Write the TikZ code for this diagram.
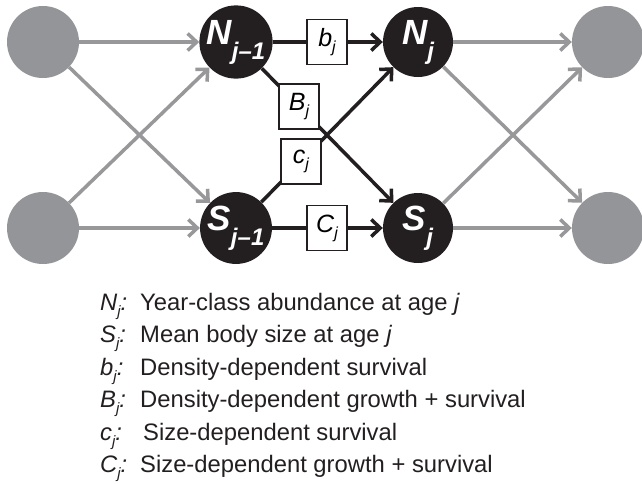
\documentclass[tikz,border=0pt]{standalone}
\usepackage{fontspec}
\setmainfont{Liberation Sans}
\usetikzlibrary{arrows.meta,calc}
\definecolor{dk}{HTML}{231F20}
\definecolor{gr}{HTML}{939598}
\definecolor{ga}{HTML}{98989B}
\newcommand\nodesub[2]{{\fontsize{35}{35}\selectfont\bfseries\itshape #1\raisebox{-15pt}{\fontsize{24}{24}\selectfont #2}}}
\newcommand\boxsub[2]{{\fontsize{25}{25}\selectfont\itshape #1\raisebox{-6pt}{\fontsize{16}{16}\selectfont #2}}}
\newcommand\lsub[1]{\raisebox{-6pt}{\fontsize{15}{15}\selectfont\itshape #1}}
\tikzset{
  graynode/.style={circle, fill=gr, minimum size=72pt, inner sep=0pt},
  blacknode/.style={circle, fill=dk, minimum size=70pt, inner sep=0pt, text=white},
  coefbox/.style={draw=dk, line width=1.6pt, fill=white, minimum width=40pt, minimum height=45pt, inner sep=0pt},
  grayarrow/.style={draw=ga, line width=3.5pt, -{Straight Barb[length=9pt,width=17pt]}},
  blackline/.style={draw=dk, line width=3.5pt},
  blackarrow/.style={blackline, -{Straight Barb[length=9pt,width=17pt]}},
  legkey/.style={anchor=base west, inner sep=0pt, font=\fontsize{23.8}{23.8}\selectfont\itshape, text=dk},
  legtext/.style={anchor=base west, inner sep=0pt, font=\fontsize{23.8}{23.8}\selectfont, text=dk}
}
\begin{document}
\begin{tikzpicture}[x=1pt,y=-1pt]
\useasboundingbox (0,0) rectangle (642,483);
% nodes
\node[graynode] (LT) at (43,42) {};
\node[graynode] (LB) at (43,228) {};
\node[graynode] (RT) at (608,42) {};
\node[graynode] (RB) at (608,228) {};
\node[blacknode] (N1) at (236,42) {\nodesub{N}{j–1}};
\node[blacknode] (N2) at (418,42) {\nodesub{N}{j}};
\node[blacknode] (S1) at (236,228) {\nodesub{S}{j–1}};
\node[blacknode] (S2) at (418,228) {\nodesub{S}{j}};
% gray connectors
\draw[grayarrow] (LT) -- (N1);
\draw[grayarrow] (LT) -- (S1);
\draw[grayarrow] (LB) -- (N1);
\draw[grayarrow] (LB) -- (S1);
\draw[grayarrow] (N2) -- (RT);
\draw[grayarrow] (N2) -- (RB);
\draw[grayarrow] (S2) -- (RT);
\draw[grayarrow] (S2) -- (RB);
% black connectors
\coordinate (bmid) at ($(N1.center)!0.5!(N2.center)$);
\coordinate (Cmid) at ($(S1.center)!0.5!(S2.center)$);
\coordinate (cpos) at ($(S1.center)!0.357!(N2.center)$);
\coordinate (Bpos) at ($(N1.center)!0.346!(S2.center)$);
\draw[blackline] (N1) -- (bmid);
\draw[blackarrow] (bmid) -- (N2);
\draw[blackline] (S1) -- (cpos);
\draw[blackarrow] (cpos) -- (N2);
\draw[blackline] (N1) -- (Bpos);
\draw[blackarrow] (Bpos) -- (S2);
\draw[blackline] (S1) -- (Cmid);
\draw[blackarrow] (Cmid) -- (S2);
\node[coefbox] (bb) at (bmid) {\boxsub{b}{j}};
\node[coefbox] (BB) at (Bpos) {\boxsub{B}{j}};
\node[coefbox] (cb) at (cpos) {\boxsub{c}{j}};
\node[coefbox] (CB) at (Cmid) {\boxsub{C}{j}};
% legend
\node[legkey] (k1) at (100,310) {N\lsub{j}:};
\node[legtext] (t1) at (140,310) {Year-class abundance at age \textit{j}};
\node[legkey] (k2) at (100,342.5) {S\lsub{j}:};
\node[legtext] (t2) at (140,342.5) {Mean body size at age \textit{j}};
\node[legkey] (k3) at (100,375) {b\lsub{j}:};
\node[legtext] (t3) at (140,375) {Density-dependent survival};
\node[legkey] (k4) at (100,407.5) {B\lsub{j}:};
\node[legtext] (t4) at (140,407.5) {Density-dependent growth + survival};
\node[legkey] (k5) at (100,440) {c\lsub{j}:};
\node[legtext] (t5) at (143,440) {Size-dependent survival};
\node[legkey] (k6) at (100,472.5) {C\lsub{j}:};
\node[legtext] (t6) at (140,472.5) {Size-dependent growth + survival};
\end{tikzpicture}
\end{document}
